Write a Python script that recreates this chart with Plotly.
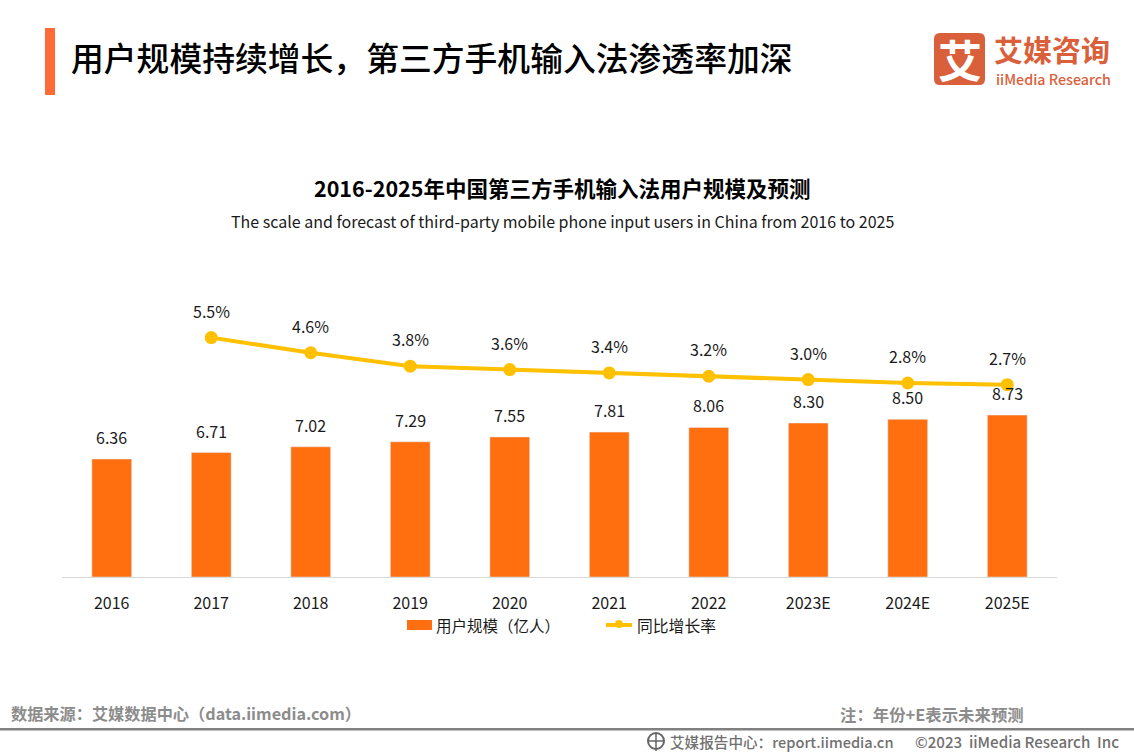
import plotly.graph_objects as go

W, H = 1134, 756
CJK = "Noto Sans CJK SC"

years = ["2016", "2017", "2018", "2019", "2020", "2021", "2022", "2023E", "2024E", "2025E"]
users = [6.36, 6.71, 7.02, 7.29, 7.55, 7.81, 8.06, 8.30, 8.50, 8.73]
growth = [None, 5.5, 4.6, 3.8, 3.6, 3.4, 3.2, 3.0, 2.8, 2.7]

# plot area in page pixels
left, right, top, bottom = 62, 1057, 280, 577


def px(x):
    return (x - left) / (right - left)


def py(y):
    return (bottom - y) / (bottom - top)


def note(x, y, text, size, color="#000000", anchor="left", weight=400):
    return dict(x=px(x), y=py(y), xref="paper", yref="paper", text=text, showarrow=False,
                xanchor=anchor, yanchor="middle", align=anchor,
                font=dict(family=CJK, size=size, color=color, weight=weight))


def box(x0, y0, x1, y1, color):
    return dict(type="rect", xref="paper", yref="paper", x0=px(x0), y0=py(y0), x1=px(x1), y1=py(y1),
                fillcolor=color, line_width=0, layer="below")


def rounded(x0, y0, x1, y1, r, color):
    p = (f"M {px(x0 + r)} {py(y0)} L {px(x1 - r)} {py(y0)} Q {px(x1)} {py(y0)} {px(x1)} {py(y0 + r)} "
         f"L {px(x1)} {py(y1 - r)} Q {px(x1)} {py(y1)} {px(x1 - r)} {py(y1)} "
         f"L {px(x0 + r)} {py(y1)} Q {px(x0)} {py(y1)} {px(x0)} {py(y1 - r)} "
         f"L {px(x0)} {py(y0 + r)} Q {px(x0)} {py(y0)} {px(x0 + r)} {py(y0)} Z")
    return dict(type="path", xref="paper", yref="paper", path=p, fillcolor=color, line_width=0)


def line(x0, y0, x1, y1, color, width):
    return dict(type="line", xref="paper", yref="paper", x0=px(x0), y0=py(y0), x1=px(x1), y1=py(y1),
                line=dict(color=color, width=width))


def value_label(i, y, yref, text, shift):
    # i is the category index: a year string would be read as a position on the axis
    return dict(x=i, y=y, xref="x", yref=yref, text=text, showarrow=False, yshift=shift,
                xanchor="center", yanchor="middle",
                font=dict(family=CJK, size=16, color="#1a1a1a"))


fig = go.Figure()
fig.add_trace(go.Bar(x=years, y=users, name="用户规模（亿人）", width=0.4, marker_color="#FF6F0F"))
fig.add_trace(go.Scatter(x=years, y=growth, name="同比增长率", yaxis="y2", mode="lines+markers",
                         line=dict(color="#FFC000", width=4), marker=dict(color="#FFC000", size=13),
                         cliponaxis=False))

notes = [
    note(69, 56.5, "用户规模持续增长，第三方手机输入法渗透率加深", 32.8, weight=500),
    note(562, 187.5, "2016-2025年中国第三方手机输入法用户规模及预测", 21.5, anchor="center", weight=700),
    note(562, 221, "The scale and forecast of third-party mobile phone input users in China from 2016 to 2025", 16, "#1a1a1a", anchor="center"),
    note(959.5, 59, "艾", 44, "#FFFFFF", anchor="center", weight=700),
    note(992, 49, "艾媒咨询", 29, "#D9603B", weight=700),
    note(994, 78, "iiMedia Research", 14.3, "#D9603B", weight=500),
    note(434, 625, "用户规模（亿人）", 15.5, "#1a1a1a"),
    note(635, 625, "同比增长率", 15.8, "#1a1a1a"),
    note(9, 713, "数据来源：艾媒数据中心（data.iimedia.com）", 16.2, "#8C8C8C", weight=700),
    note(838, 714, "注：年份+E表示未来预测", 16.4, "#8C8C8C", weight=700),
    note(668, 741, "艾媒报告中心：report.iimedia.cn", 14.6, "#707070", weight=500),
    note(913, 741, "©2023  iiMedia Research  Inc", 15.1, "#707070", weight=500),
]
for i, u in enumerate(users):
    notes.append(value_label(i, u, "y", f"{u:.2f}", 22))
for i, g in enumerate(growth):
    if g is not None:
        notes.append(value_label(i, g, "y2", f"{g:.1f}%", 27))

shapes = [
    box(45, 28, 55, 95, "#FF6A39"),
    rounded(934, 33, 985, 85, 6, "#D9603B"),
    box(0, 728, W, 730.5, "#808080"),
    box(407, 620, 432, 630, "#FF6F0F"),
    line(606, 625, 632, 625, "#FFC000", 4),
    dict(type="circle", xref="paper", yref="paper", x0=px(615), y0=py(620), x1=px(623), y1=py(628),
         fillcolor="#FFC000", line_width=0),
    dict(type="circle", xref="paper", yref="paper", x0=px(648), y0=py(733), x1=px(664), y1=py(749),
         line=dict(color="#666666", width=2)),
    line(648, 741, 664, 741, "#666666", 1.5),
    line(656, 733, 656, 751, "#666666", 1.5),
]

fig.update_layout(
    width=W, height=H, autosize=False,
    margin=dict(l=left, r=W - right, t=top, b=H - bottom, pad=0),
    paper_bgcolor="white", plot_bgcolor="white",
    font=dict(family=CJK, size=15, color="#1a1a1a"),
    xaxis=dict(type="category", range=[-0.5, 9.5], showgrid=False, showline=True, linecolor="#D9D9D9", linewidth=1,
               ticks="", tickfont=dict(family=CJK, size=16, color="#1a1a1a"), ticklabelstandoff=12),
    yaxis=dict(range=[0, 16.01], visible=False, showgrid=False),
    yaxis2=dict(range=[-8.75, 8.93], overlaying="y", visible=False, showgrid=False),
    showlegend=False,
    annotations=notes,
    shapes=shapes,
)

fig.write_html("out.html", config=dict(displayModeBar=False),
               post_script="document.body.style.margin='0';document.body.style.overflow='hidden';")
